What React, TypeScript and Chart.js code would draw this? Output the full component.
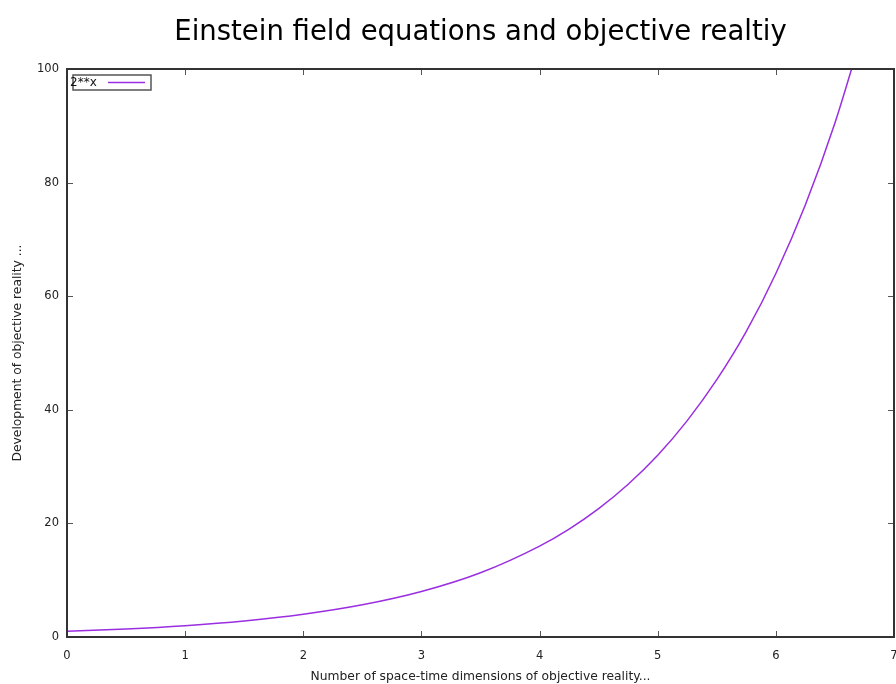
import React, { useEffect, useRef } from "react";
import { Chart, registerables } from "chart.js";

Chart.register(...registerables);

const TITLE = "Einstein field equations and objective realtiy";
const X_TITLE = "Number of space-time dimensions of objective reality...";
const Y_TITLE = "Development of objective reality ...";
const SERIES_LABEL = "2**x";

const xValues = [0, 0.5, 1, 1.5, 2, 2.5, 3, 3.5, 4, 4.25, 4.5, 4.75, 5, 5.25, 5.5, 5.75, 6, 6.25, 6.5, 6.75];
const yValues = [1, 1.41, 2, 2.83, 4, 5.66, 8, 11.3, 16, 19.0, 22.6, 26.9, 32, 38.1, 45.3, 53.8, 64, 76.1, 90.5, 107.6];

const X_MIN = 0;
const X_MAX = 7;
const Y_MIN = 0;
const Y_MAX = 100;
const Y_STEP = 20;
const X_STEP = 1;

const LINE_COLOR = "#9a2ee0";
const FRAME_COLOR = "#333333";
const FONT = "'DejaVu Sans', sans-serif";

const framePlugin = {
  id: "gnuplotFrame",
  afterDatasetsDraw(chart: any) {
    const { ctx, chartArea } = chart;
    const { left, right, top, bottom } = chartArea;
    const xs = chart.scales.x;
    const ys = chart.scales.y;
    const tick = 6;
    ctx.save();
    ctx.strokeStyle = "#555555";
    ctx.lineWidth = 1;
    ctx.beginPath();
    xs.ticks.forEach((t: any) => {
      const px = Math.round(xs.getPixelForValue(t.value)) + 0.5;
      ctx.moveTo(px, bottom);
      ctx.lineTo(px, bottom - tick);
      ctx.moveTo(px, top);
      ctx.lineTo(px, top + tick);
    });
    ys.ticks.forEach((t: any) => {
      const py = Math.round(ys.getPixelForValue(t.value)) + 0.5;
      ctx.moveTo(left, py);
      ctx.lineTo(left + tick, py);
      ctx.moveTo(right, py);
      ctx.lineTo(right - tick, py);
    });
    ctx.stroke();
    ctx.strokeStyle = FRAME_COLOR;
    ctx.lineWidth = 2;
    ctx.strokeRect(left, top, right - left, bottom - top);
    ctx.restore();
  },
};

const keyPlugin = {
  id: "gnuplotKey",
  afterDraw(chart: any) {
    const { ctx, chartArea } = chart;
    const ds = chart.data.datasets[0];
    const bx = chartArea.left + 6;
    const by = chartArea.top + 6;
    const bw = 78;
    const bh = 15;
    ctx.save();
    ctx.strokeStyle = "#555555";
    ctx.lineWidth = 1.5;
    ctx.strokeRect(bx, by, bw, bh);
    ctx.fillStyle = "#111111";
    ctx.font = "12px " + FONT;
    ctx.textAlign = "left";
    ctx.textBaseline = "middle";
    ctx.fillText(ds.label, chartArea.left + 3, by + bh / 2);
    ctx.strokeStyle = ds.borderColor;
    ctx.lineWidth = 1.5;
    ctx.beginPath();
    ctx.moveTo(chartArea.left + 41, by + bh / 2);
    ctx.lineTo(chartArea.left + 78, by + bh / 2);
    ctx.stroke();
    ctx.restore();
  },
};

export default function App() {
  const ref = useRef<HTMLCanvasElement>(null);

  useEffect(() => {
    if (!ref.current) return;
    Chart.defaults.font.family = FONT;
    const chart = new Chart(ref.current, {
      type: "line",
      data: {
        datasets: [
          {
            label: SERIES_LABEL,
            data: xValues.map((x, i) => ({ x, y: yValues[i] })),
            borderColor: LINE_COLOR,
            backgroundColor: LINE_COLOR,
            borderWidth: 1.5,
            pointRadius: 0,
            cubicInterpolationMode: "monotone",
            fill: false,
          },
        ],
      },
      options: {
        animation: false,
        responsive: false,
        layout: { padding: 0 },
        plugins: {
          legend: { display: false },
          tooltip: { enabled: false },
          title: {
            display: true,
            text: TITLE,
            color: "#000000",
            font: { size: 27.5, weight: "normal", family: FONT },
            padding: { top: 16, bottom: 20 },
          },
        },
        scales: {
          x: {
            type: "linear",
            min: X_MIN,
            max: X_MAX,
            grid: { display: false, drawTicks: false },
            border: { display: false },
            ticks: { stepSize: X_STEP, color: "#222222", font: { size: 11.5 }, padding: 12, maxRotation: 0 },
            title: {
              display: true,
              text: X_TITLE,
              color: "#222222",
              font: { size: 12.3 },
              padding: { top: 0, bottom: 0 },
            },
            afterFit: (scale: any) => {
              scale.height = 47;
            },
          },
          y: {
            type: "linear",
            min: Y_MIN,
            max: Y_MAX,
            grid: { display: false, drawTicks: false },
            border: { display: false },
            ticks: { stepSize: Y_STEP, color: "#222222", font: { size: 11.5 }, padding: 8 },
            title: {
              display: true,
              text: Y_TITLE,
              color: "#222222",
              font: { size: 12.3 },
              padding: { top: 10, bottom: 0 },
            },
            afterFit: (scale: any) => {
              scale.width = 67;
            },
          },
          y2: {
            type: "linear",
            position: "right",
            min: Y_MIN,
            max: Y_MAX,
            grid: { display: false, drawTicks: false },
            border: { display: false },
            ticks: { display: false },
            afterFit: (scale: any) => {
              scale.width = 67;
            },
          },
        },
      },
      plugins: [framePlugin, keyPlugin],
    });
    return () => chart.destroy();
  }, []);

  return (
    <div
      style={{
        position: "fixed",
        left: 0,
        top: 0,
        width: 896,
        height: 684,
        overflow: "hidden",
        background: "#ffffff",
      }}
    >
      <canvas ref={ref} width={961} height={684} style={{ width: 961, height: 684, display: "block" }} />
    </div>
  );
}
